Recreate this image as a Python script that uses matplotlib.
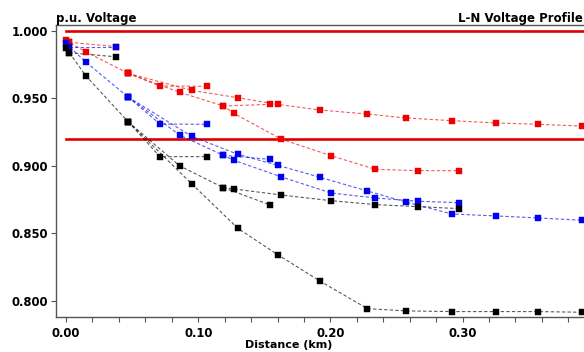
import numpy as np
import matplotlib
matplotlib.use("Agg")
import matplotlib.pyplot as plt
from matplotlib.ticker import MultipleLocator, FormatStrFormatter

plt.rcParams['font.family'] = ['DejaVu Sans']
plt.rcParams['font.weight'] = 'bold'

# node distances (km) along each run of the feeder
trunk_x = [0.000, 0.0025, 0.015, 0.047]
spur1_x = [0.0025, 0.038]
spur2_x = [0.047, 0.071, 0.107]
branch_a_x = [0.047, 0.086, 0.119, 0.127, 0.163, 0.2005, 0.234, 0.266, 0.2975]
spur3_x = [0.119, 0.154]
branch_b_x = [0.047, 0.095, 0.130, 0.160, 0.192, 0.228, 0.257, 0.292, 0.325, 0.357, 0.390]

# p.u. voltage per phase, same order as above
red_trunk = [0.9933, 0.9916, 0.9846, 0.9686]
red_spur1 = [0.9916, 0.9885]
red_spur2 = [0.9686, 0.9592, 0.9590]
red_a = [0.9686, 0.9545, 0.9444, 0.9389, 0.9197, 0.9075, 0.8974, 0.8964, 0.8964]
red_spur3 = [0.9444, 0.9456]
red_b = [0.9686, 0.9560, 0.9505, 0.9456, 0.9414, 0.9384, 0.9355, 0.9335, 0.9318, 0.9308, 0.9295]

blue_trunk = [0.9909, 0.9884, 0.9770, 0.9510]
blue_spur1 = [0.9884, 0.9884]
blue_spur2 = [0.9510, 0.9310, 0.9308]
blue_a = [0.9510, 0.9228, 0.9078, 0.9041, 0.8917, 0.8798, 0.8761, 0.8737, 0.8726]
blue_spur3 = [0.9078, 0.9048]
blue_b = [0.9510, 0.9219, 0.9085, 0.9004, 0.8915, 0.8813, 0.8731, 0.8642, 0.8628, 0.8613, 0.8596]

black_trunk = [0.9872, 0.9839, 0.9668, 0.9327]
black_spur1 = [0.9839, 0.9809]
black_spur2 = [0.9327, 0.9068, 0.9068]
black_a = [0.9327, 0.8999, 0.8838, 0.8828, 0.8783, 0.8741, 0.8712, 0.8697, 0.8682]
black_spur3 = [0.8838, 0.8711]
black_b = [0.9327, 0.8867, 0.8536, 0.8341, 0.8145, 0.7940, 0.7923, 0.7918, 0.7918, 0.7918, 0.7913]

limits = [1.000, 0.920]

xs = [trunk_x, spur1_x, spur2_x, branch_a_x, spur3_x, branch_b_x]
phases = [
    ('#ee0000', [red_trunk, red_spur1, red_spur2, red_a, red_spur3, red_b]),
    ('#0000ee', [blue_trunk, blue_spur1, blue_spur2, blue_a, blue_spur3, blue_b]),
    ('#000000', [black_trunk, black_spur1, black_spur2, black_a, black_spur3, black_b]),
]

fig = plt.figure(figsize=(5.84, 3.52), dpi=100)
ax = fig.add_axes([0.0954, 0.1003, 0.9149, 0.8287])

for lim in limits:
    ax.plot([0.0, 0.3964], [lim, lim], color='#e00000', lw=1.9, zorder=2)

for colour, runs in phases:
    for x, v in zip(xs, runs):
        ax.plot(x, v, color=colour, lw=0.8, alpha=0.65, dashes=(3, 2), zorder=3)
    for x, v in zip(xs, runs):
        ax.plot(x, v, ls='none', marker='s', ms=5, mfc=colour, mec=colour,
                mew=0.3, zorder=4)

ax.set_xlim(-0.0078, 0.3964)
ax.set_ylim(0.788, 1.0045)

ax.xaxis.set_major_locator(MultipleLocator(0.1))
ax.xaxis.set_minor_locator(MultipleLocator(0.02))
ax.xaxis.set_major_formatter(FormatStrFormatter('%.2f'))
ax.yaxis.set_major_locator(MultipleLocator(0.05))
ax.yaxis.set_major_formatter(FormatStrFormatter('%.3f'))

ax.tick_params(axis='both', which='both', direction='out', length=3.5,
               width=0.8, color='#555555', labelsize=8.4)
ax.tick_params(axis='y', pad=1.7)
ax.tick_params(axis='x', pad=3.6)

for side in ['left', 'bottom', 'top']:
    ax.spines[side].set_color('#555555')
    ax.spines[side].set_linewidth(1.0)
ax.spines['right'].set_visible(False)

ax.set_xlabel('Distance (km)', fontsize=8, fontweight='bold', va='center')
ax.xaxis.set_label_coords(0.4367, -0.097)

ax.text(0.0, 1.0103, 'p.u. Voltage', transform=ax.transAxes, ha='left',
        va='baseline', fontsize=8.5, fontweight='bold')
ax.text(0.987, 1.0103, 'L-N Voltage Profile', transform=ax.transAxes,
        ha='right', va='baseline', fontsize=8.5, fontweight='bold')

fig.savefig('out.png', dpi=100)
